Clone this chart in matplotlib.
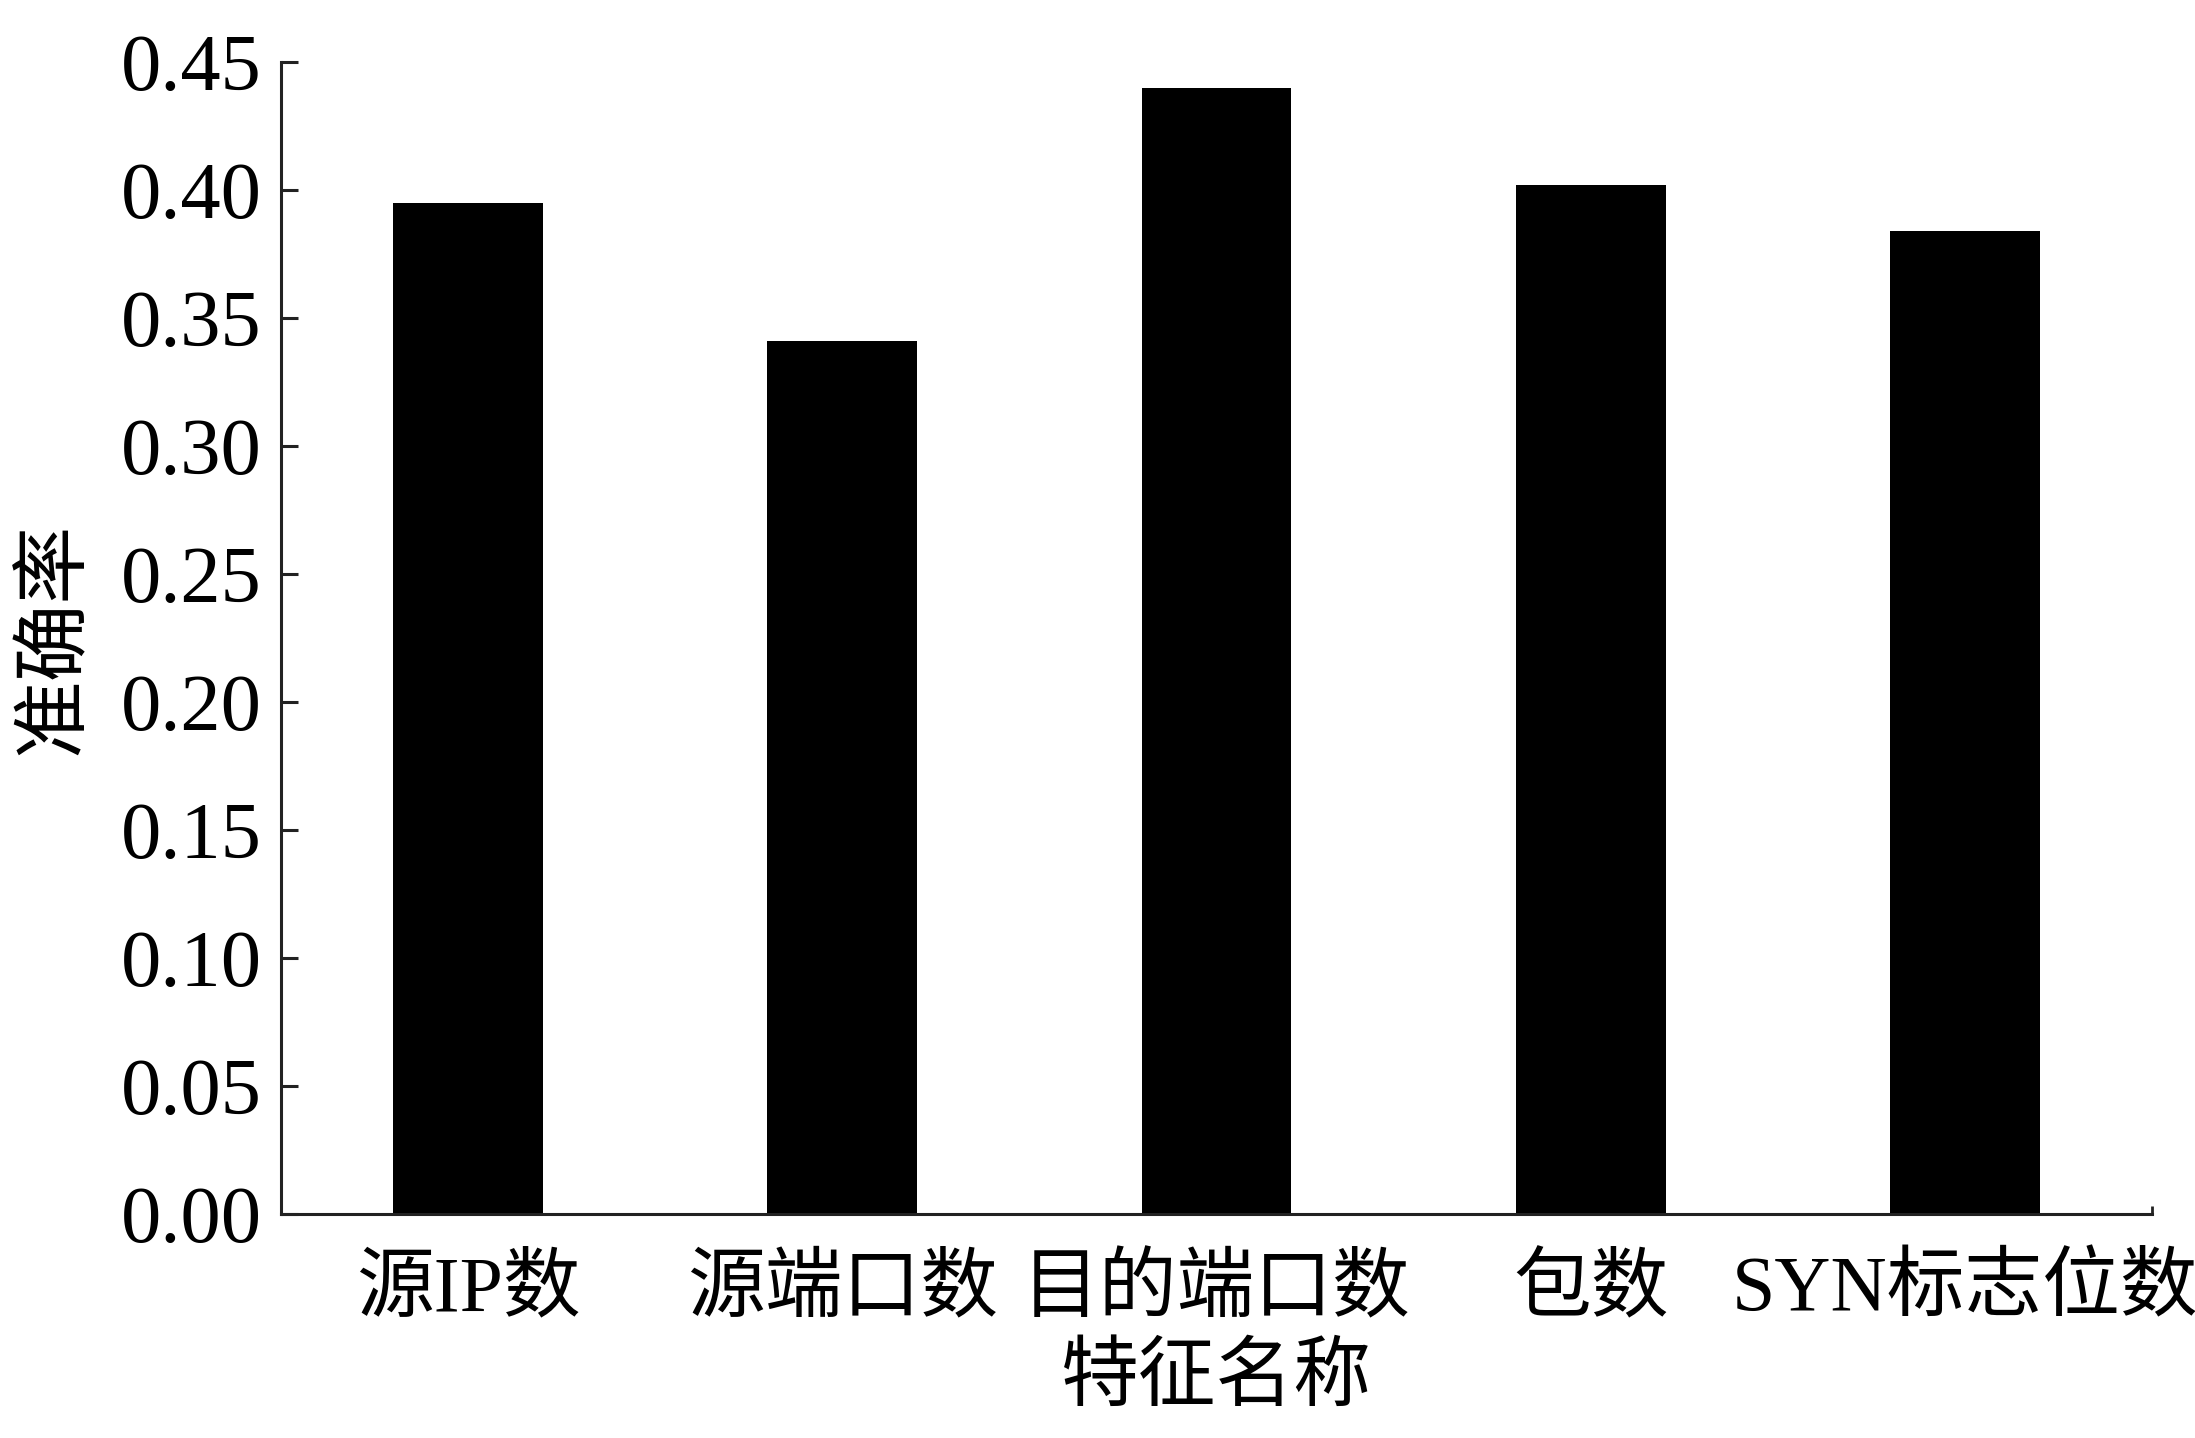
import matplotlib
matplotlib.use("Agg")
import matplotlib.pyplot as plt
import numpy as np

# feature names and accuracy values
features = ["源IP数", "源端口数", "目的端口数", "包数", "SYN标志位数"]
accuracy = [0.395, 0.341, 0.440, 0.402, 0.384]
yticks = [0.00, 0.05, 0.10, 0.15, 0.20, 0.25, 0.30, 0.35, 0.40, 0.45]

plt.rcParams['font.family'] = ['Liberation Serif', 'Noto Sans CJK SC', 'DejaVu Sans']

fig = plt.figure(figsize=(21.95, 14.38), dpi=100)
ax = fig.add_axes([0.128, 0.1558, 0.8524, 0.8011])

x = np.arange(len(features))
ax.bar(x, accuracy, width=0.4, color='black', edgecolor='black', linewidth=0)

ax.set_xlim(-0.5, 4.5)
ax.set_ylim(0, 0.45)
ax.set_yticks(yticks)
ax.set_yticklabels([f"{v:.2f}" for v in yticks])
ax.set_xticks(x)
ax.set_xticklabels(features)

# small upturned tick at the right end of the x axis
ax.set_xticks([4.5], minor=True)
ax.tick_params(axis='x', which='minor', direction='in', length=6, width=2, color='#222222')

ax.tick_params(axis='y', which='major', direction='in', length=12, width=2.2,
               color='#222222', labelsize=58, pad=14)
ax.tick_params(axis='x', which='major', length=0, labelsize=56, pad=30)

for side in ['top', 'right']:
    ax.spines[side].set_visible(False)
for side in ['left', 'bottom']:
    ax.spines[side].set_linewidth(2.2)
    ax.spines[side].set_color('#222222')

ax.set_xlabel("特征名称", fontsize=56, va='center')
ax.xaxis.set_label_coords(0.5, -0.145)
ax.set_ylabel("准确率", fontsize=56, va='center')
ax.yaxis.set_label_coords(-0.120, 0.5)

plt.savefig("out.png", dpi=100)
plt.close()
